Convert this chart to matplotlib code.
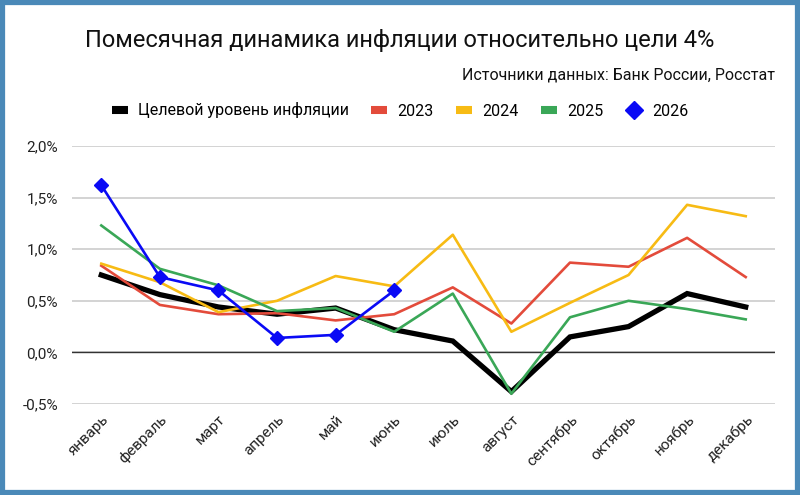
import matplotlib
matplotlib.use("Agg")
import matplotlib.pyplot as plt
from matplotlib.lines import Line2D
from matplotlib.patches import Rectangle
from matplotlib.ticker import FuncFormatter

plt.rcParams['font.family'] = ['Roboto', 'DejaVu Sans']

months = ["январь", "февраль", "март", "апрель", "май", "июнь", "июль",
          "август", "сентябрь", "октябрь", "ноябрь", "декабрь"]
target = [0.75, 0.56, 0.44, 0.37, 0.43, 0.22, 0.11, -0.38, 0.15, 0.25, 0.57, 0.44]
y2023 = [0.84, 0.46, 0.37, 0.38, 0.31, 0.37, 0.63, 0.28, 0.87, 0.83, 1.11, 0.73]
y2024 = [0.86, 0.68, 0.39, 0.50, 0.74, 0.64, 1.14, 0.20, 0.48, 0.75, 1.43, 1.32]
y2025 = [1.23, 0.81, 0.65, 0.40, 0.43, 0.20, 0.57, -0.40, 0.34, 0.50, 0.42, 0.32]
y2026 = [1.62, 0.73, 0.60, 0.14, 0.17, 0.60]
yticks = [-0.5, 0.0, 0.5, 1.0, 1.5, 2.0]

title = "Помесячная динамика инфляции относительно цели 4%"
subtitle = "Источники данных: Банк России, Росстат"
labels = ["Целевой уровень инфляции", "2023", "2024", "2025", "2026"]
colors = ["#000000", "#e34b3b", "#f7bb14", "#3aa757", "#0a0af5"]

fig = plt.figure(figsize=(8.0, 4.95), dpi=100)
fig.patch.set_facecolor("white")
ax = fig.add_axes([72/800, 1 - 404/495, (775-72)/800, (404-146)/495])

x = list(range(len(months)))
ax.plot(x, target, color=colors[0], lw=3.8, zorder=3, solid_joinstyle='miter')
ax.plot(x, y2023, color=colors[1], lw=1.9, zorder=4)
ax.plot(x, y2024, color=colors[2], lw=1.9, zorder=4)
ax.plot(x, y2025, color=colors[3], lw=1.9, zorder=5)
ax.plot(x[:len(y2026)], y2026, color=colors[4], lw=1.9, marker='D',
        markersize=7, zorder=6)

ax.set_xlim(-0.5, 11.5)
ax.set_ylim(-0.5, 2.0)
ax.set_yticks(yticks)
ax.yaxis.set_major_formatter(FuncFormatter(lambda v, p: f"{v:.1f}%".replace('.', ',')))
ax.set_xticks(x)
ax.set_xticklabels(months, rotation=45, ha='right', rotation_mode='anchor')
ax.grid(axis='y', color='#d0d0d0', lw=1.3, zorder=0)
ax.axhline(0, color='#333333', lw=1.0, zorder=2)
for s in ax.spines.values():
    s.set_visible(False)
ax.tick_params(axis='both', length=0, labelsize=11, colors='#222222')
ax.tick_params(axis='y', pad=10)
ax.tick_params(axis='x', pad=6)

fig.text(0.5, 1 - 40/495, title, ha='center', va='center', fontsize=17.0, color='#111111')
fig.text(775/800, 1 - 75/495, subtitle, ha='right', va='center', fontsize=11.5, color='#111111')

handles = [Line2D([], [], color=c, lw=5.8, solid_capstyle='butt') for c in colors[:4]]
handles.append(Line2D([], [], color=colors[4], lw=0, marker='D', markersize=9.5))
fig.legend(handles, labels, loc='center', bbox_to_anchor=(400/800, 1 - 110.5/495),
           ncol=5, frameon=False, fontsize=11.5, handlelength=1.0,
           handletextpad=0.63, columnspacing=1.42)

border = Rectangle((0.0025, 0.004), 0.995, 0.992, transform=fig.transFigure,
                   fill=False, edgecolor='#4a89b8', lw=4.5, zorder=10)
fig.patches.append(border)

fig.savefig("out.png", dpi=100)
